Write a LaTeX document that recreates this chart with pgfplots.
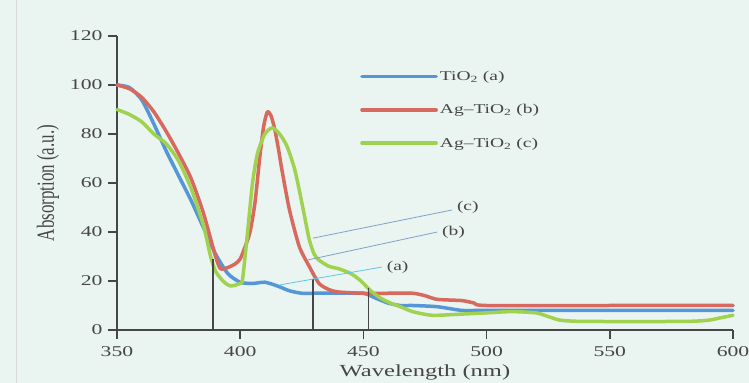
\documentclass[border=0pt]{standalone}
\usepackage{pgfplots}
\pgfplotsset{compat=1.18}
\usepackage{fontspec}
\setmainfont{Liberation Serif}[FakeStretch=1.45]
\newfontfamily\plainserif{Liberation Serif}
\definecolor{bgc}{RGB}{234,244,240}
\definecolor{cblue}{RGB}{85,150,215}
\definecolor{cred}{RGB}{215,105,95}
\definecolor{cgreen}{RGB}{160,210,80}
\definecolor{axc}{RGB}{70,70,70}
\definecolor{txc}{RGB}{70,70,70}
\definecolor{lcyan}{RGB}{90,200,230}
\definecolor{lgray}{RGB}{130,160,200}
\begin{document}
\begin{tikzpicture}
\useasboundingbox (-117bp,-53bp) rectangle (632bp,330bp);
\fill[bgc] (-117bp,-53bp) rectangle (632bp,330bp);
\draw[black!15, line width=1bp] (-100bp,-53bp) -- (-100bp,330bp);
\begin{axis}[
  scale only axis,
  width=616bp, height=294bp,
  xmin=350, xmax=600, ymin=0, ymax=120,
  xtick={350,400,...,600}, ytick={0,20,...,120},
  axis lines*=left,
  axis line style={axc, line width=1.8bp, -},
  tick style={axc, line width=1.5bp},
  major tick length=9bp,
  tick align=outside,
  tick label style={txc, font=\fontsize{15}{17}\selectfont, /pgf/number format/assume math mode=true},
  xticklabel style={yshift=-4bp},
  yticklabel style={xshift=-2bp},
  xlabel={Wavelength (nm)},
  ylabel={\scalebox{1}[1.45]{\plainserif Absorption (a.u.)}},
  label style={txc, font=\fontsize{17}{19}\selectfont},
  xlabel style={at={(axis description cs:0.5,-0.146)}, anchor=center},
  ylabel style={at={(axis description cs:-0.112,0.5)}, anchor=center},
  legend style={draw=none, fill=none, at={(0.39,0.895)}, anchor=north west,
    font=\fontsize{13.5}{15}\selectfont, text=txc, row sep=18.5bp, cells={anchor=west}},
  legend image code/.code={\path (0bp,0bp) -- (74bp,0bp);\draw[#1] plot coordinates {(0bp,0bp) (32bp,0bp) (65bp,0bp)};},
  every axis plot/.append style={line width=3.5bp, smooth, tension=0.4, line join=round, line cap=round},
  clip=false,
]
\addplot[cblue] coordinates {
(350,100) (355,99) (360,94) (365,84) (370,73) (375,63) (380,53) (385,42) (390,31)
(395,23) (400,19.5) (405,19) (410,19.5) (415,18) (420,16) (425,15) (430,15) (440,15)
(450,15) (455,13) (460,11) (465,10) (470,10) (480,9.5) (490,8) (500,8) (550,8) (600,8)};
\addlegendentry{TiO\textsubscript{2} (a)}
\addplot[cred] coordinates {
(350,100) (355,98.5) (360,95) (365,89) (370,81) (375,72) (380,62) (385,48) (390,30)
(392,25) (395,25.5) (398,27) (400,29) (402,34) (404,40) (406,52) (408,71) (409.5,83) (411,89)
(412.5,87.5) (414,82) (415.5,74) (417,65) (420,49) (424,34) (428,26) (432,19) (436,16.5) (440,15.5)
(450,15) (460,15) (470,15) (475,14) (480,12.5) (490,12) (495,11) (500,10) (550,10) (600,10)};
\addlegendentry{Ag--TiO\textsubscript{2} (b)}
\addplot[cgreen] coordinates {
(350,90) (355,88) (360,85) (365,80) (370,76) (375,69) (380,58) (385,43) (388,30)
(390,24) (393,20) (396,18) (400,19) (401,21) (403,40) (405,60) (407,72) (410,80)
(413,82.5) (416,80) (419,75) (422,66) (424,57) (426,47) (428,37) (430,31) (432,28.5)
(436,26) (440,25) (445,23) (449,20) (453,16) (457,13) (461,11) (465,9.5) (470,7.5)
(478,6) (490,6.5) (500,7) (510,7.5) (520,7) (525,5.5) (530,4) (540,3.5) (580,3.5)
(590,4) (595,5) (600,6)};
\addlegendentry{Ag--TiO\textsubscript{2} (c)}
% annotation lines
\draw[axc, line width=1.6bp] (axis cs:389,0) -- (axis cs:389,29);
\draw[axc, line width=1.6bp] (axis cs:429.5,0) -- (axis cs:429.5,21);
\draw[axc, line width=1.6bp] (axis cs:452,0) -- (axis cs:452,17);
\draw[lcyan, line width=0.8bp] (axis cs:416,18.4) -- (axis cs:457.5,25.7);
\draw[lgray, line width=0.8bp] (axis cs:427.5,28.6) -- (axis cs:480,40);
\draw[lgray, line width=0.8bp] (axis cs:429.6,37.5) -- (axis cs:486,49);
\node[txc, font=\fontsize{13.5}{15}\selectfont, anchor=west, inner sep=1bp] at (axis cs:459,25.7) {(a)};
\node[txc, font=\fontsize{13.5}{15}\selectfont, anchor=west, inner sep=1bp] at (axis cs:481.5,40) {(b)};
\node[txc, font=\fontsize{13.5}{15}\selectfont, anchor=west, inner sep=1bp] at (axis cs:487.5,50) {(c)};
\end{axis}
\end{tikzpicture}
\end{document}
